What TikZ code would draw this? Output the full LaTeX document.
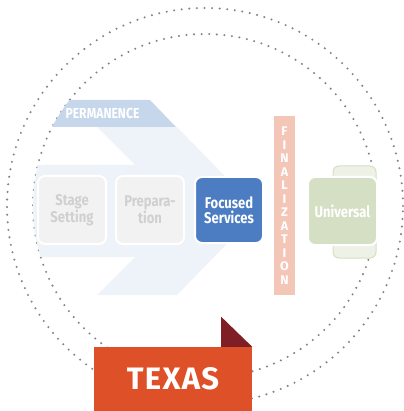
\documentclass[tikz,border=0pt]{standalone}
\usepackage{fontspec}
\setmainfont{Fira Sans}
\newfontfamily\narrowfont[FakeStretch=0.84]{Fira Sans}
\usepackage{tikz}
\usetikzlibrary{positioning}
\definecolor{dotgray}{HTML}{858585}
\definecolor{chevronbg}{HTML}{EEF2F9}
\definecolor{bannerblue}{HTML}{C6D7EC}
\definecolor{boxgray}{HTML}{F2F2F2}
\definecolor{boxtext}{HTML}{D0D0D0}
\definecolor{focusblue}{HTML}{4C7DC3}
\definecolor{finalsalmon}{HTML}{F4C6B8}
\definecolor{univgreen}{HTML}{D5DFC3}
\definecolor{univback}{HTML}{EEF2E6}
\definecolor{texasred}{HTML}{DE5128}
\definecolor{folddark}{HTML}{7F1E25}
\newcommand{\ringCx}{205}
\newcommand{\ringCy}{206}

\begin{document}
\begin{tikzpicture}[x=1pt,y=-1pt,
	ring/.style={draw=dotgray, line width=2.3pt, line cap=round, dash pattern=on 0pt off 7.6pt},
	stagebox/.style={rectangle, rounded corners=7pt, draw=white, line width=2pt, fill=boxgray,
		minimum width=68pt, minimum height=68pt, inner sep=0pt, align=center, text=boxtext,
		font=\narrowfont\bfseries\fontsize{15.5}{15.5}\selectfont}]
	\useasboundingbox (0,0) rectangle (403,411);

	\draw[ring] (\ringCx,\ringCy) circle[radius=198pt];
	\draw[ring] (\ringCx,\ringCy) circle[radius=172pt];

	\begin{scope}
		\clip (\ringCx,\ringCy) circle[radius=172pt];
		% chevron arrow behind the boxes
		\fill[chevronbg] (97,127) -- (177,127) -- (259,211) -- (177,295) -- (97,295) -- (135,257)
			-- (20,257) -- (20,165) -- (135,165) -- cycle;
		\fill[bannerblue] (30,100) -- (150,100) -- (176,127) -- (30,127) -- cycle;
		\node[text=white, font=\narrowfont\bfseries\fontsize{14.5}{14.5}\selectfont] (perm) at (102.5,113.5) {PERMANENCE};
	\end{scope}

	\node[stagebox] (stage) at (72,210) {Stage\\Setting};
	\node[stagebox, right=8pt of stage] (prep) {Prepara-\\tion};
	\node[stagebox, right=9pt of prep, fill=focusblue, text=white, minimum height=66pt] (focused) {Focused\\Services};

	\node[rectangle, fill=finalsalmon, minimum width=21pt, minimum height=179pt, inner sep=0pt,
		text=white, align=center, font=\bfseries\fontsize{12.5}{13.5}\selectfont] (final) at (284.5,205.5)
		{F\\I\\N\\A\\L\\I\\Z\\A\\T\\I\\O\\N};

	\draw[fill=univback, draw=univgreen, line width=1pt, rounded corners=6pt] (333,166) rectangle (376,258);
	\node[stagebox, fill=univgreen, text=white, minimum width=69pt] (universal) at (342.5,211) {Universal};

	\node[rectangle, fill=texasred, minimum width=158pt, minimum height=64pt, inner sep=0pt,
		text=white, font=\bfseries\fontsize{31}{31}\selectfont\addfontfeature{LetterSpace=4}] (texas) at (173,379) {TEXAS};
	\fill[folddark] (texas.north east) -- ++(-31,0) -- ++(0,-30) -- cycle;
\end{tikzpicture}
\end{document}
